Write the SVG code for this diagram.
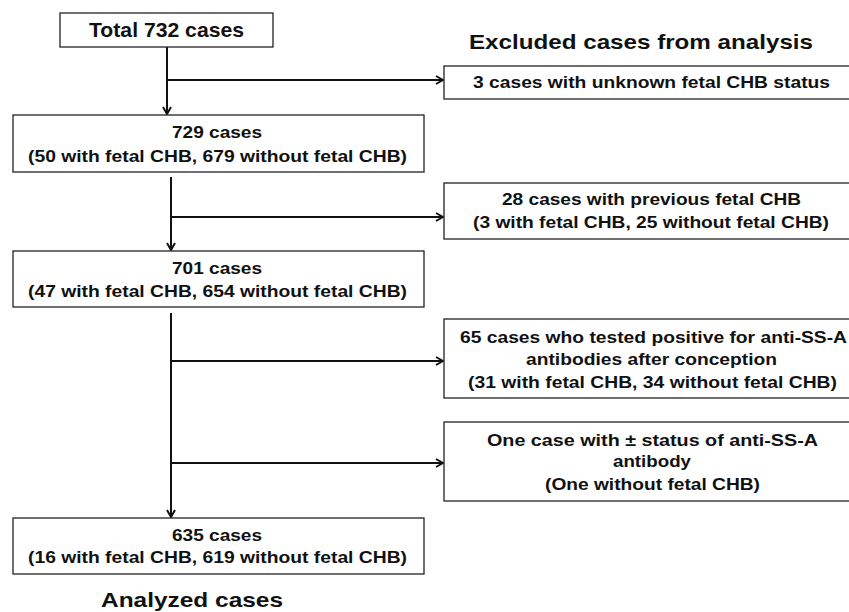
<svg xmlns="http://www.w3.org/2000/svg" width="849" height="612" viewBox="0 0 849 612">
<defs>
<style>
.box{fill:#fff;stroke:#222;stroke-width:1.3}
.t{font-family:"Liberation Sans",Arial,sans-serif;font-weight:bold;font-size:17px;fill:#111;text-anchor:middle}
.h{font-family:"Liberation Sans",Arial,sans-serif;font-weight:bold;font-size:21px;fill:#111;text-anchor:middle}
.ln{fill:none;stroke:#111;stroke-width:2}
</style>
<marker id="ah" viewBox="0 0 10 10" refX="9" refY="5" markerWidth="10" markerHeight="10" markerUnits="userSpaceOnUse" orient="auto">
<polyline points="2,1 9,5 2,9" fill="none" stroke="#111" stroke-width="2"/>
</marker>
</defs>
<rect width="849" height="612" fill="#fff"/>
<g id="connectors">
<line class="ln" x1="167" y1="47" x2="167" y2="114" marker-end="url(#ah)"/>
<line class="ln" x1="167" y1="80" x2="443" y2="80" marker-end="url(#ah)"/>
<line class="ln" x1="171" y1="177" x2="171" y2="250" marker-end="url(#ah)"/>
<line class="ln" x1="171" y1="217" x2="443" y2="217" marker-end="url(#ah)"/>
<line class="ln" x1="171" y1="313" x2="171" y2="517" marker-end="url(#ah)"/>
<line class="ln" x1="171" y1="361" x2="443" y2="361" marker-end="url(#ah)"/>
<line class="ln" x1="171" y1="463" x2="443" y2="463" marker-end="url(#ah)"/>
</g>
<g id="total">
<rect class="box" x="60" y="13" width="213" height="34"/>
<text class="t" x="166.5" y="37" style="font-size:20.5px" textLength="155" lengthAdjust="spacingAndGlyphs">Total 732 cases</text>
</g>
<g id="heading-excluded">
<text class="h" x="641" y="49" textLength="344" lengthAdjust="spacingAndGlyphs">Excluded cases from analysis</text>
</g>
<g id="n729">
<rect class="box" x="13" y="115" width="411" height="57"/>
<text class="t" x="217" y="138" textLength="90" lengthAdjust="spacingAndGlyphs">729 cases</text>
<text class="t" x="217.5" y="161.5" textLength="379" lengthAdjust="spacingAndGlyphs">(50 with  fetal CHB, 679 without  fetal CHB)</text>
</g>
<g id="ex3">
<rect class="box" x="444" y="66" width="410" height="33"/>
<text class="t" x="651.5" y="88" textLength="357" lengthAdjust="spacingAndGlyphs">3 cases with  unknown  fetal CHB  status</text>
</g>
<g id="ex28">
<rect class="box" x="444" y="183" width="410" height="56"/>
<text class="t" x="651.5" y="205" textLength="299" lengthAdjust="spacingAndGlyphs">28 cases with  previous fetal CHB</text>
<text class="t" x="651" y="228" textLength="356" lengthAdjust="spacingAndGlyphs">(3 with  fetal CHB, 25 without  fetal CHB)</text>
</g>
<g id="n701">
<rect class="box" x="13" y="251" width="411" height="56"/>
<text class="t" x="217" y="274" textLength="90" lengthAdjust="spacingAndGlyphs">701 cases</text>
<text class="t" x="217.5" y="297" textLength="379" lengthAdjust="spacingAndGlyphs">(47 with  fetal CHB, 654 without  fetal CHB)</text>
</g>
<g id="ex65">
<rect class="box" x="444" y="319" width="410" height="79"/>
<text class="t" x="653.5" y="343" textLength="387" lengthAdjust="spacingAndGlyphs">65 cases who tested positive for anti-SS-A</text>
<text class="t" x="651.5" y="365" textLength="251" lengthAdjust="spacingAndGlyphs">antibodies  after conception</text>
<text class="t" x="652.5" y="388" textLength="369" lengthAdjust="spacingAndGlyphs">(31 with  fetal CHB, 34 without  fetal CHB)</text>
</g>
<g id="ex1">
<rect class="box" x="444" y="422" width="410" height="79"/>
<text class="t" x="652.5" y="446" textLength="331" lengthAdjust="spacingAndGlyphs">One case with  ±  status of anti-SS-A</text>
<text class="t" x="652" y="467" textLength="78" lengthAdjust="spacingAndGlyphs">antibody</text>
<text class="t" x="652.5" y="490" textLength="215" lengthAdjust="spacingAndGlyphs">(One without  fetal CHB)</text>
</g>
<g id="n635">
<rect class="box" x="13" y="518" width="411" height="56"/>
<text class="t" x="217" y="541" textLength="90" lengthAdjust="spacingAndGlyphs">635 cases</text>
<text class="t" x="217.5" y="563" textLength="379" lengthAdjust="spacingAndGlyphs">(16 with  fetal CHB, 619 without  fetal CHB)</text>
</g>
<g id="heading-analyzed">
<text class="h" x="192" y="607" textLength="182" lengthAdjust="spacingAndGlyphs">Analyzed cases</text>
</g>
</svg>
